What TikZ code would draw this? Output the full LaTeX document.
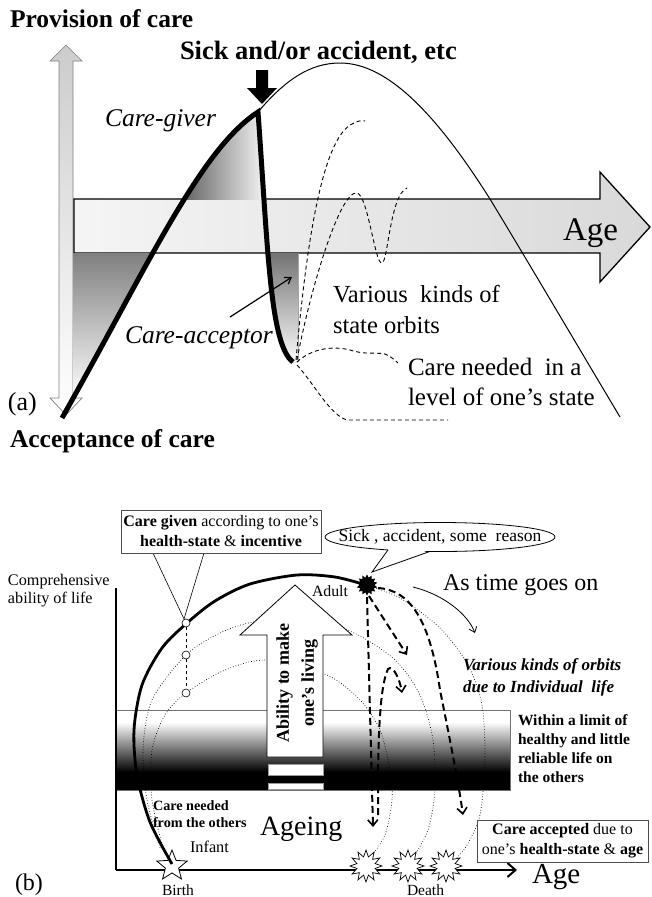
\documentclass[tikz,border=0pt]{standalone}
\usepackage{fontspec}
\setmainfont{Liberation Serif}
\usetikzlibrary{arrows.meta,shapes.geometric}
\newcommand{\myfs}[2]{\fontsize{#1}{#2}\selectfont}
\begin{document}
\begin{tikzpicture}[x=1pt,y=-1pt,
  lbl/.style={inner sep=0pt, outer sep=0pt, anchor=base west},
  thickcurve/.style={line width=5pt},
  thindash/.style={line width=0.9pt, dash pattern=on 4pt off 3pt},
  orbit/.style={line width=2pt, dash pattern=on 7pt off 4pt},
  orbtip/.style={-{Straight Barb[length=6pt,width=10pt,line width=1.6pt]}},
  dotarc/.style={line width=0.7pt, dotted},
  smallcirc/.style={circle, draw, fill=white, line width=0.6pt, minimum size=8pt, inner sep=0pt},
  deathburst/.style={star, star points=12, star point ratio=1.7, draw, fill=white, line width=0.7pt, minimum size=32pt, inner sep=0pt},
]
\useasboundingbox (0,0) rectangle (652,897);
\fill[white] (0,0) rectangle (652,897);

% ================= (a) =================
% vertical double arrow
\path[draw=black!50, line width=0.7pt, top color=black!20, middle color=black!45, bottom color=white]
 (59,61) -- (50,61) -- (66,45) -- (82,61) -- (73,61) -- (73,398) -- (82,398) -- (66,415) -- (50,398) -- (59,398) -- cycle;
% Age arrow
\path[draw=black, line width=1.3pt, left color=black!4, middle color=black!50, right color=black!15]
 (74,199) -- (600,199) -- (600,172) -- (650,227) -- (600,282) -- (600,253) -- (74,253) -- cycle;
\node[lbl, font=\myfs{33}{33}] (agea) at (563,240) {Age};

% shaded regions
\begin{scope}
\clip (62,418) .. controls (150,262) and (200,150) .. (258,112) .. controls (268,250) and (270,345) .. (293,362) -- cycle;
\fill[left color=black!60, right color=black!2] (185,105) rectangle (268,199);
\end{scope}
\begin{scope}
\clip (62,418) .. controls (150,262) and (200,150) .. (258,112) -- (73,112) -- (73,418) -- cycle;
\fill[top color=black!50, bottom color=white] (73,253) rectangle (170,400);
\end{scope}
\begin{scope}
\clip (258,112) .. controls (268,250) and (270,345) .. (293,362) -- (298,362) -- (298,112) -- cycle;
\fill[top color=black!55, bottom color=white] (262,253) rectangle (298,365);
\end{scope}
\draw[black!35, line width=0.6pt] (298,253) -- (298,362);

% thin curve
\draw[line width=1pt] (258,112) .. controls (285,80) and (310,63) .. (340,63) .. controls (390,63) and (440,120) .. (490,199) .. controls (530,265) and (580,350) .. (620,417);
% thick curve
\draw[thickcurve] (62,418) .. controls (150,262) and (200,150) .. (258,112) .. controls (268,250) and (270,345) .. (293,362);
% sick arrow
\fill[black] (256,70) -- (268,70) -- (268,88) -- (277,88) -- (262,104) -- (247,88) -- (256,88) -- cycle;

% dashed orbits (a)
\draw[thindash] (296,360) .. controls (305,260) and (320,140) .. (352,124) .. controls (357,121) and (362,120) .. (365,121);
\draw[thindash] (297,360) .. controls (310,290) and (340,190) .. (357,193) .. controls (368,195) and (375,265) .. (382,263) .. controls (388,262) and (390,195) .. (407,188);
\draw[thindash] (297,362) .. controls (310,350) and (330,345) .. (350,350) .. controls (365,355) and (375,352) .. (385,354) .. controls (390,356) and (395,360) .. (398,363);
\draw[thindash] (297,365) .. controls (315,385) and (330,415) .. (347,420) -- (448,420);

% texts (a)
\node[lbl, font=\myfs{25.5}{25.5}\bfseries] (prov) at (10,27) {Provision of care};
\node[lbl, font=\myfs{26.5}{26.5}\bfseries] (sick1) at (180,59) {Sick and/or accident, etc};
\node[lbl, font=\myfs{25.5}{25.5}\itshape] (cgiver) at (105,126) {Care-giver};
\node[lbl, font=\myfs{25.5}{25.5}\itshape] (cacc) at (125,343) {Care-acceptor};
\coordinate (caccA) at (230,317);
\coordinate (caccB) at (292,277);
\draw[line width=1.2pt, -{Straight Barb[length=6pt,width=8pt]}] (caccA) -- (caccB);
\node[lbl, font=\myfs{24.5}{24.5}] (var1) at (333,302) {Various~ kinds of};
\node[lbl, font=\myfs{24.5}{24.5}] (var2) at (333,333) {state orbits};
\node[lbl, font=\myfs{25}{25}] (cn1) at (408,375) {Care needed~ in a};
\node[lbl, font=\myfs{25}{25}] (cn2) at (408,405) {level of one’s state};
\node[lbl, font=\myfs{26}{26}] (la) at (8,410) {(a)};
\node[lbl, font=\myfs{25.5}{25.5}\bfseries] (accept) at (10,447) {Acceptance of care};

% ================= (b) =================
% band
\fill[white] (116,710) rectangle (510,722);
\shade[top color=white, bottom color=black] (116,722) rectangle (510,772);
\fill[black] (116,771.5) rectangle (510,790);
\draw[black!55, line width=0.6pt] (116,710) rectangle (510,790);

% axes
\coordinate (ytop) at (116,588);
\coordinate (orig) at (116,870);
\coordinate (xend) at (517,870);
\draw[line width=2.5pt] (ytop) -- (orig);
\draw[line width=2.5pt, -{Straight Barb[length=8pt,width=14pt,line width=2pt]}] (orig) -- (xend);

% dotted arcs
\draw[dotarc] plot[smooth] coordinates {(366,585) (400,598) (440,628) (468,665) (482,705) (485,760) (480,815) (467,845) (455,860)};
\draw[dotarc] plot[smooth] coordinates {(160,848) (147,800) (143,750) (152,700) (186,655) (220,633) (253,622) (300,618) (352,632) (395,660) (420,695) (433,740) (435,790) (428,830) (413,858)};
\draw[dotarc] plot[smooth] coordinates {(163,848) (152,800) (152,750) (165,715) (186,693) (225,670) (267,660) (327,675) (360,700) (380,730) (390,770) (392,800) (385,835) (370,858)};

% birth star and death bursts
\node[star, star points=5, star point ratio=2.3, draw, fill=white, line width=0.8pt, minimum size=32pt, inner sep=0pt] (birthstar) at (172,866) {};
\node[deathburst] (d1) at (366,866) {};
\node[deathburst] (d2) at (408,866) {};
\node[deathburst] (d3) at (446,866) {};

% thick life arc
\draw[line width=2.8pt] plot[smooth] coordinates {(172,864) (150,822) (137,775) (134,730) (142,685) (162,648) (187,623) (215,601) (250,584) (297,575) (335,577) (366,585)};

% Ability arrow
\draw[fill=white, line width=0.8pt] (267,757) -- (267,635) -- (240,635) -- (295,585) -- (352,635) -- (323,635) -- (323,757) -- cycle;
\node[rotate=90, font=\myfs{18}{25}\bfseries, align=center, inner sep=0pt] (abil) at (297,683) {Ability to make\\one's living};
\draw[fill=white, draw=black!40, line width=0.5pt] (268,764) rectangle (323,775);
\draw[fill=white, draw=black!40, line width=0.5pt] (268,783) rectangle (323,789);

% care given callout
\coordinate (cgtip) at (184,619);
\coordinate (cgl) at (153,553);
\coordinate (cgr) at (204,553);
\draw[line width=0.6pt] (cgl) -- (cgtip) -- (cgr);
\node[draw=black!70, fill=white, line width=0.6pt, align=center, font=\myfs{16}{20}, minimum width=200pt, minimum height=43pt, inner sep=0pt] (cgbox) at (221,531.5) {\textbf{Care given} according to one’s\\\textbf{health-state} \& \textbf{incentive}};
\node[smallcirc] (c1) at (186,623) {};
\node[smallcirc] (c2) at (186,655) {};
\node[smallcirc] (c3) at (186,693) {};
\draw[line width=0.5pt, dashed] (c1) -- (c2) -- (c3);

% sick ellipse callout
\draw[fill=white, line width=0.8pt] (440,537) ellipse [x radius=115, y radius=14.5];
\fill[white] (389,548.5) -- (372,572) -- (429,550) -- cycle;
\draw[line width=0.8pt] (388,549.9) -- (372,572) -- (430,551.4);
\node[inner sep=0pt, font=\myfs{17.5}{17.5}] (sick) at (440,537) {Sick , accident, some~ reason};

% adult burst
\node[star, star points=14, star point ratio=1.4, fill=black, minimum size=21pt, inner sep=0pt] (adultpt) at (367,585) {};

% orbits
\draw[orbit, orbtip] (369,596) -- (407,655);
\draw[orbit, orbtip] (378,588) .. controls (410,590) and (430,620) .. (440,690) .. controls (450,740) and (458,780) .. (463,815);
\draw[orbit, orbtip] (367,597) -- (373,827);
\draw[orbit, orbtip] (378,815) .. controls (378,760) and (378,690) .. (388,669) .. controls (393,664) and (400,680) .. (402,693);

% as time goes on
\node[lbl, font=\myfs{24}{24}] (astime) at (443,590) {As time goes on};
\draw[line width=0.8pt, -{Straight Barb[length=5pt,width=8pt]}] (413,587) .. controls (445,595) and (468,615) .. (475,633);

% texts (b)
\node[lbl, font=\myfs{16.2}{16.2}] (comp1) at (8,585) {Comprehensive};
\node[lbl, font=\myfs{16.2}{16.2}] (comp2) at (8,603) {ability of life};
\node[lbl, font=\myfs{15.8}{15.8}] (adult) at (312,596) {Adult};
\node[lbl, font=\myfs{17}{17}\bfseries\itshape] (vk1) at (463,670) {Various kinds of orbits};
\node[lbl, font=\myfs{17}{17}\bfseries\itshape] (vk2) at (463,692) {due to Individual~ life};
\node[lbl, font=\myfs{15.5}{15.5}\bfseries] (w1) at (518,725) {Within a limit of};
\node[lbl, font=\myfs{15.5}{15.5}\bfseries] (w2) at (518,744) {healthy and little};
\node[lbl, font=\myfs{15.5}{15.5}\bfseries] (w3) at (518,763) {reliable life on};
\node[lbl, font=\myfs{15.5}{15.5}\bfseries] (w4) at (518,782) {the others};
\node[lbl, font=\myfs{14.2}{14.2}\bfseries] (need1) at (153,810) {Care needed};
\node[lbl, font=\myfs{14.2}{14.2}\bfseries] (need2) at (153,827) {from the others};
\node[lbl, font=\myfs{28}{28}] (ageing) at (260,835) {Ageing};
\node[lbl, font=\myfs{16.3}{16.3}] (infant) at (190,852) {Infant};
\node[lbl, font=\myfs{29}{29}] (ageb) at (532,883) {Age};
\node[lbl, font=\myfs{24}{24}] (lb) at (15,890) {(b)};
\node[lbl, font=\myfs{15.5}{15.5}] (birth) at (162,895) {Birth};
\node[lbl, font=\myfs{15.5}{15.5}] (death) at (407,895) {Death};
\node[draw=black!70, fill=white, line width=0.6pt, align=center, font=\myfs{16}{20}, minimum width=171pt, minimum height=42pt, inner sep=0pt] (cabox) at (562.5,841) {\textbf{Care accepted} due to\\one’s \textbf{health-state} \& \textbf{age}};
\end{tikzpicture}
\end{document}
